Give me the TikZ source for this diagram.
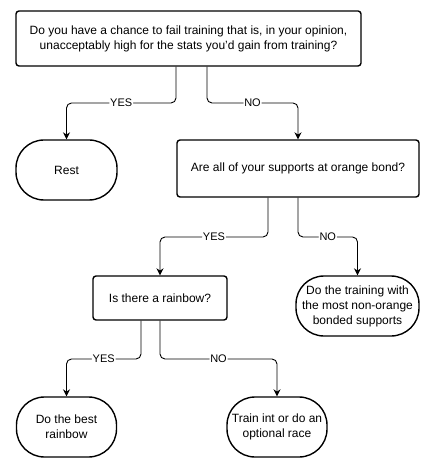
\documentclass[tikz,border=0pt]{standalone}
\usepackage{fontspec}
\setmainfont{Liberation Sans}
\usetikzlibrary{arrows.meta,calc}
\begin{document}
\begin{tikzpicture}[x=1bp,y=-1bp,
  box/.style={draw,line width=1.4bp,rounded corners=3bp,align=center,inner sep=2bp,
    font=\fontsize{12bp}{15bp}\selectfont},
  term/.style={draw,line width=1.4bp,rounded corners=28bp,align=center,inner sep=1bp,
    font=\fontsize{12bp}{15bp}\selectfont},
  conn/.style={draw,line width=0.9bp,rounded corners=5bp,-{Stealth[length=7bp,width=7bp]}},
  lbl/.style={fill=white,inner sep=1bp,font=\fontsize{11bp}{13bp}\selectfont}]
\useasboundingbox (0,0) rectangle (428,468);
\node[box,minimum width=345bp,minimum height=55bp] (q1) at (188.5,38.5)
  {Do you have a chance to fail training that is, in your opinion,\\unacceptably high for the stats you'd gain from training?};
\node[term,minimum width=101bp,minimum height=60bp] (rest) at (66.5,170) {Rest};
\node[box,minimum width=242bp,minimum height=57bp] (q2) at (298,168.5) {Are all of your supports at orange bond?};
\node[box,minimum width=134bp,minimum height=44bp] (q3) at (160,298) {Is there a rainbow?};
\node[term,minimum width=123bp,minimum height=60bp] (most) at (357.5,306) {Do the training with\\the most non-orange\\bonded supports};
\node[term,minimum width=100bp,minimum height=60bp] (best) at (66.5,427) {Do the best\\rainbow};
\node[term,minimum width=100bp,minimum height=60bp] (train) at (277,427) {Train int or do an\\optional race};

\draw[conn] ([xshift=-12.5bp]q1.south) -- ([xshift=-12.5bp]q1.south |- 0,103) -| (rest.north) node[lbl,pos=0.25]{YES};
\draw[conn] ([xshift=18.5bp]q1.south) -- ([xshift=18.5bp]q1.south |- 0,103) -| (q2.north) node[lbl,pos=0.25]{NO};
\draw[conn] ([xshift=-30bp]q2.south) -- ([xshift=-30bp]q2.south |- 0,237) -| (q3.north) node[lbl,pos=0.25]{YES};
\draw[conn] (q2.south) -- (q2.south |- 0,237) -| (most.north) node[lbl,pos=0.25]{NO};
\draw[conn] ([xshift=-19bp]q3.south) -- ([xshift=-19bp]q3.south |- 0,359) -| (best.north) node[lbl,pos=0.25]{YES};
\draw[conn] (q3.south) -- (q3.south |- 0,359) -| (train.north) node[lbl,pos=0.25]{NO};
\end{tikzpicture}
\end{document}
